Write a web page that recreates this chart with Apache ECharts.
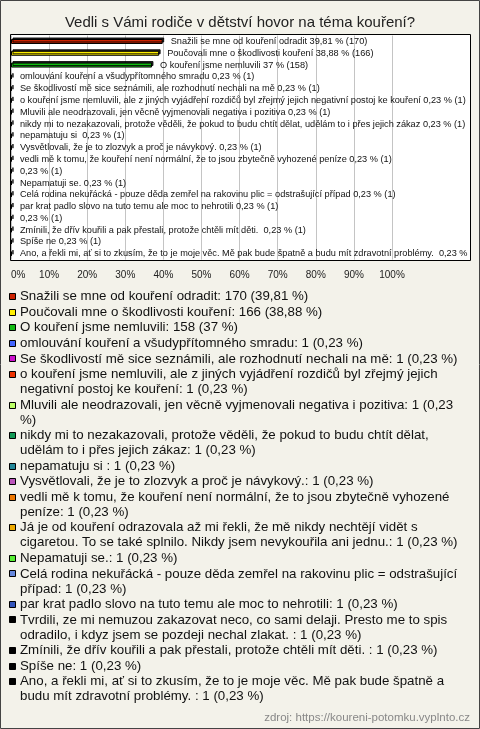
<!DOCTYPE html>
<html>
<head>
<meta charset="utf-8">
<script src="https://cdn.jsdelivr.net/npm/echarts@6/dist/echarts.min.js"></script>
<style>
html,body{margin:0;padding:0;background:#f3f2ea;}
#c{width:480px;height:729px;}
</style>
</head>
<body>
<div id="c"></div>
<script>
// ---- data ----
const titleText = 'Vedli s Vámi rodiče v dětství hovor na téma kouření?';
const sourceText = 'zdroj: https://koureni-potomku.vyplnto.cz';
const categories = [
  'Snažili se mne od kouření odradit',
  'Poučovali mne o škodlivosti kouření',
  'O kouření jsme nemluvili',
  'omlouvání kouření a všudypřítomného smradu',
  'Se škodlivostí mě sice seznámili, ale rozhodnutí nechali na mě',
  'o kouření jsme nemluvili, ale z jiných vyjádření rozdičů byl zřejmý jejich negativní postoj ke kouření',
  'Mluvili ale neodrazovali, jen věcně vyjmenovali negativa i pozitiva',
  'nikdy mi to nezakazovali, protože věděli, že pokud to budu chtít dělat, udělám to i přes jejich zákaz',
  'nepamatuju si ',
  'Vysvětlovali, že je to zlozvyk a proč je návykový.',
  'vedli mě k tomu, že kouření není normální, že to jsou zbytečně vyhozené peníze',
  'Já je od kouření odrazovala až mi řekli, že mě nikdy nechtějí vidět s cigaretou. To se také splnilo. Nikdy jsem nevykouřila ani jednu.',
  'Nepamatuji se.',
  'Celá rodina nekuřácká - pouze děda zemřel na rakovinu plic = odstrašující případ',
  'par krat padlo slovo na tuto temu ale moc to nehrotili',
  'Tvrdili, ze mi nemuzou zakazovat neco, co sami delaji. Presto me to spis odradilo, i kdyz jsem se pozdeji nechal zlakat. ',
  'Zmínili, že dřív kouřili a pak přestali, protože chtěli mít děti. ',
  'Spíše ne',
  'Ano, a řekli mi, ať si to zkusím, že to je moje věc. Mě pak bude špatně a budu mít zdravotní problémy. '
];
const counts = [170, 166, 158, 1, 1, 1, 1, 1, 1, 1, 1, 1, 1, 1, 1, 1, 1, 1, 1];
const percents = [39.81, 38.88, 37, 0.23, 0.23, 0.23, 0.23, 0.23, 0.23, 0.23, 0.23, 0.23, 0.23, 0.23, 0.23, 0.23, 0.23, 0.23, 0.23];
// names that the original chart did not print beside their bar (too long)
const nameOnBar = [true, true, true, true, true, true, true, true, true, true, true, false, true, true, true, false, true, true, true];
const colors = ['#cc2200', '#ffee00', '#11bb11', '#4466ff', '#cc11cc', '#ee3300', '#bbff66', '#119955',
  '#228899', '#bb55bb', '#ee7700', '#eeaa00', '#55ee33', '#6688dd', '#3355bb', '#000000', '#000000', '#000000', '#000000'];
const xMin = 0, xMax = 100, xInterval = 10;

// ---- helpers ----
const fmtPct = v => String(v).replace('.', ',');
const FONT = '"Liberation Sans", Arial, sans-serif';
const mctx = document.createElement('canvas').getContext('2d');
function wrap(text, font, width) {
  mctx.font = font;
  const words = text.split(' ');
  const lines = [];
  let cur = '';
  for (let i = 0; i < words.length; i++) {
    const cand = cur === '' ? words[i] : cur + ' ' + words[i];
    if (mctx.measureText(cand).width > width && cur !== '') {
      lines.push(cur);
      cur = words[i];
    } else {
      cur = cand;
    }
  }
  if (cur !== '') lines.push(cur);
  return lines;
}

const chart = echarts.init(document.getElementById('c'), null, {renderer: 'canvas'});

// legend as graphic elements
const legendFont = '13.3px ' + FONT;
const lineH = 15, itemGap = 0.55;
const legendEls = [];
let ly = 296.7;
categories.forEach((name, i) => {
  const txt = name + ': ' + counts[i] + ' (' + fmtPct(percents[i]) + ' %)';
  const lines = wrap(txt, legendFont, 446);
  legendEls.push({
    type: 'rect', z: 20,
    shape: {x: 9.5, y: Math.round(ly - 3.5) + 0.5, width: 6, height: 6},
    style: {fill: colors[i], stroke: '#000', lineWidth: 1}
  });
  legendEls.push({
    type: 'text', z: 20, x: 20, y: ly - lineH / 2,
    style: {text: lines.join('\n'), font: legendFont, fill: '#111', lineHeight: lineH, verticalAlign: 'top'}
  });
  ly += lines.length * lineH + itemGap;
});

const gridTop = 35.6, gridH = 224, gridLeft = 11, gridRight = 88;

const option = {
  backgroundColor: '#f3f2ea',
  animation: false,
  title: {
    text: titleText, left: 'center', top: 10,
    textStyle: {fontFamily: FONT, fontSize: 15, fontWeight: 'normal', color: '#222'}
  },
  grid: {left: gridLeft, right: gridRight, top: gridTop, height: gridH, containLabel: false},
  xAxis: {
    type: 'value', min: xMin, max: xMax, interval: xInterval,
    axisLine: {show: false}, axisTick: {show: false},
    splitLine: {show: true, lineStyle: {color: '#c4c4c4', width: 1}},
    axisLabel: {formatter: '{value}%', fontFamily: FONT, fontSize: 10, color: '#222', margin: 11, alignMinLabel: 'left'}
  },
  yAxis: {
    type: 'category', data: categories, inverse: true,
    axisLine: {show: false}, axisTick: {show: false}, axisLabel: {show: false}, splitLine: {show: false}
  },
  series: [{
    type: 'bar', barWidth: 5,
    data: percents.map((p, i) => ({
      value: p,
      itemStyle: {color: colors[i], borderColor: '#000', borderWidth: 1,
        shadowColor: 'rgba(0,0,0,0.85)', shadowOffsetX: 1.5, shadowOffsetY: -1.5, shadowBlur: 0}
    })),
    label: {
      show: true, position: 'right', distance: 8,
      fontFamily: FONT, fontSize: 9.2, color: '#111',
      formatter: p => (nameOnBar[p.dataIndex] ? categories[p.dataIndex] + ' ' : '') + fmtPct(percents[p.dataIndex]) + ' % (' + counts[p.dataIndex] + ')'
    }
  }],
  graphic: [
    {type: 'rect', z: -1, silent: true, shape: {x: 10.5, y: 34.5, width: 460, height: 226}, style: {fill: '#ffffff'}},
    {type: 'rect', z: 15, shape: {x: 471, y: 30, width: 9, height: 235}, style: {fill: '#f3f2ea'}},
    {type: 'rect', z: 16, shape: {x: 10.5, y: 34.5, width: 460, height: 226}, style: {fill: 'none', stroke: '#000', lineWidth: 1}},
    {type: 'rect', z: 16, shape: {x: 0.5, y: 0.5, width: 479, height: 728}, style: {fill: 'none', stroke: '#444', lineWidth: 1}},
    {type: 'text', z: 20, x: 470, y: 718, style: {text: sourceText, font: '11.5px ' + FONT, fill: '#888', align: 'right', verticalAlign: 'middle'}}
  ].concat(legendEls)
};
chart.setOption(option);
</script>
</body>
</html>
